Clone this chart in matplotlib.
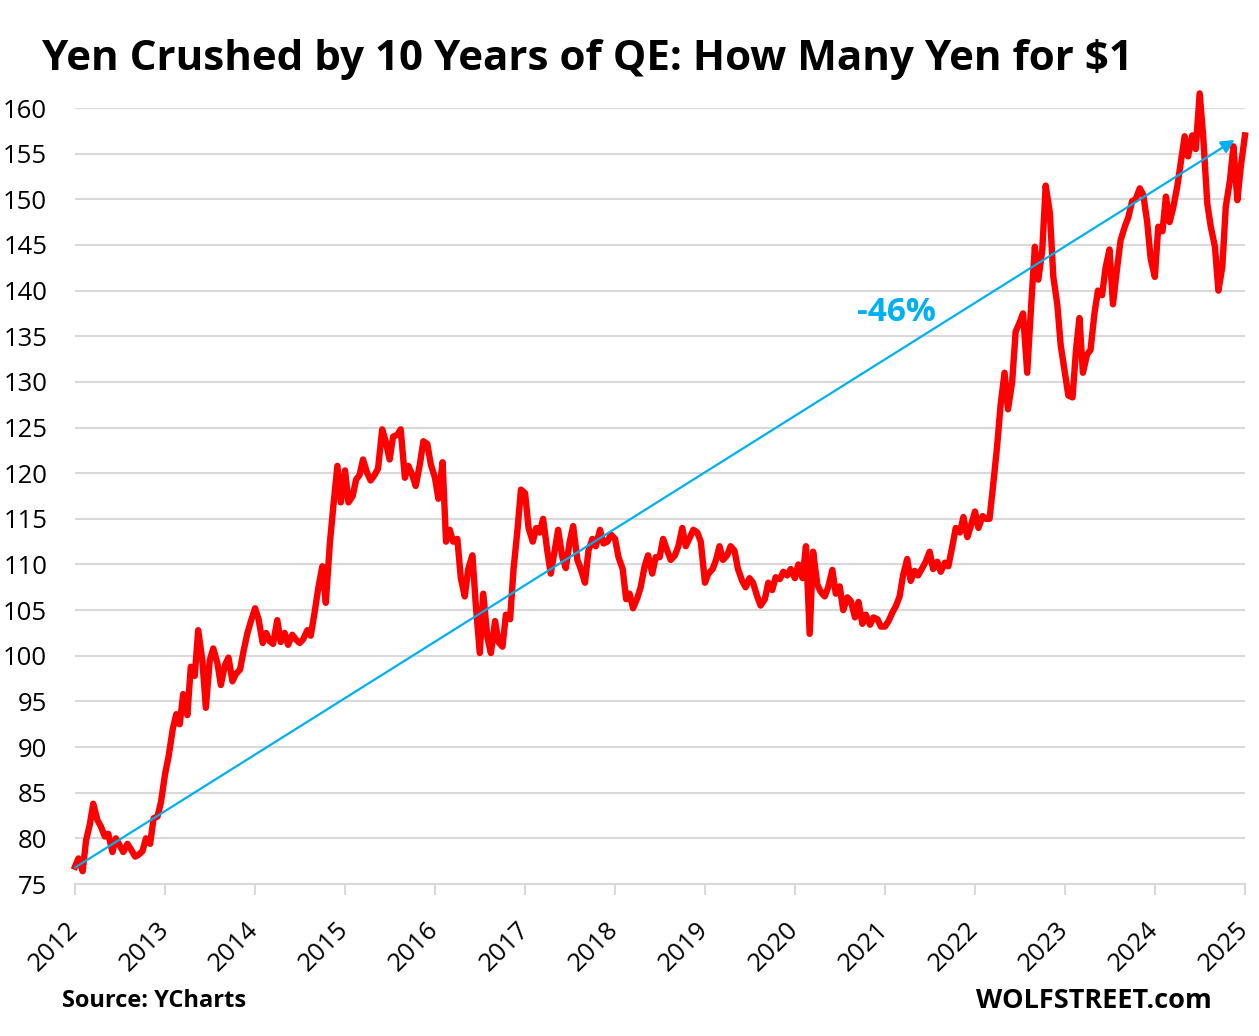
import numpy as np
import pandas as pd
import matplotlib
matplotlib.use('Agg')
import matplotlib.pyplot as plt

# USD/JPY at the 1st and 15th of each month
yen_2012 = [76.9, 77.8, 76.4, 79.8, 81.5, 83.8, 82.0, 81.3, 80.2, 80.5, 78.5, 80.0,
            79.2, 78.5, 79.4, 78.8, 78.0, 78.2, 78.6, 80.0, 79.4, 82.2, 82.4, 84.0]
yen_2013 = [87.1, 89.0, 92.0, 93.6, 92.5, 95.8, 93.5, 98.8, 97.8, 102.8, 99.5, 94.3,
            99.5, 100.8, 99.2, 96.8, 99.0, 99.8, 97.2, 98.0, 98.5, 100.5, 102.5, 103.8]
yen_2014 = [105.2, 104.0, 101.4, 102.5, 101.6, 101.3, 103.9, 101.5, 102.5, 101.2, 102.3, 101.8,
            101.4, 101.8, 102.8, 102.2, 105.0, 107.5, 109.8, 105.8, 112.5, 116.5, 120.8, 116.8]
yen_2015 = [120.3, 116.8, 117.5, 119.3, 119.8, 121.5, 120.0, 119.2, 119.8, 120.5, 124.8, 123.5,
            121.5, 124.0, 124.2, 124.8, 119.5, 120.8, 119.8, 118.6, 121.0, 123.5, 123.2, 121.0]
yen_2016 = [119.5, 117.2, 121.2, 112.5, 113.8, 112.5, 112.8, 108.5, 106.5, 109.5, 111.0, 105.5,
            100.3, 106.8, 102.0, 100.3, 103.8, 101.5, 101.0, 104.5, 104.0, 109.5, 113.8, 118.2]
yen_2017 = [117.8, 114.0, 112.5, 114.0, 113.5, 115.0, 111.5, 109.0, 111.5, 113.8, 110.8, 109.6,
            112.5, 114.2, 110.5, 109.5, 108.0, 111.5, 112.8, 112.0, 113.8, 112.3, 112.5, 113.3]
yen_2018 = [112.8, 110.8, 109.5, 106.2, 106.8, 105.2, 106.3, 107.5, 109.8, 111.0, 109.0, 110.8,
            110.8, 112.8, 111.5, 110.5, 111.0, 112.0, 114.0, 112.0, 113.0, 113.8, 113.5, 112.5]
yen_2019 = [108.0, 109.0, 109.5, 110.5, 112.0, 110.5, 111.0, 112.0, 111.5, 109.5, 108.2, 107.5,
            108.5, 108.0, 106.5, 105.5, 106.2, 108.0, 107.2, 108.6, 108.4, 109.2, 108.8, 109.5]
yen_2020 = [108.5, 110.0, 108.5, 112.0, 102.4, 111.4, 107.8, 107.0, 106.5, 107.5, 109.4, 106.8,
            107.6, 105.0, 106.4, 106.0, 104.2, 105.9, 103.5, 104.5, 103.4, 104.2, 104.0, 103.2]
yen_2021 = [103.2, 103.8, 104.8, 105.5, 106.5, 108.8, 110.6, 108.2, 109.3, 108.8, 109.6, 110.3,
            111.4, 109.5, 110.3, 109.2, 110.2, 109.8, 112.0, 114.0, 113.5, 115.2, 113.0, 114.2]
yen_2022 = [115.8, 114.0, 115.3, 115.0, 115.0, 118.5, 123.0, 127.5, 131.0, 127.0, 130.0, 135.5,
            136.5, 137.5, 131.0, 137.5, 144.8, 141.2, 144.4, 151.5, 148.5, 141.5, 138.5, 134.0]
yen_2023 = [131.0, 128.5, 128.3, 133.5, 137.0, 131.0, 133.0, 133.5, 137.5, 140.0, 139.5, 142.5,
            144.5, 138.5, 142.5, 145.5, 147.0, 148.0, 149.8, 150.0, 151.2, 150.5, 147.5, 143.5]
yen_2024 = [141.5, 147.0, 146.5, 150.3, 147.5, 149.0, 151.4, 154.0, 156.9, 154.7, 157.0, 155.5,
            161.6, 157.0, 149.5, 147.0, 144.8, 140.0, 142.6, 149.2, 152.1, 155.8, 149.9, 153.6]
yen_2025 = [157.0]

years = list(range(2012, 2026))
trend_dates = ['2012-01-01', '2024-11-20']
trend_values = [76.8, 156.5]

usd_jpy = (yen_2012 + yen_2013 + yen_2014 + yen_2015 + yen_2016 + yen_2017 + yen_2018 +
           yen_2019 + yen_2020 + yen_2021 + yen_2022 + yen_2023 + yen_2024 + yen_2025)
dates = pd.date_range('2012-01-01', '2025-01-01', freq='SMS')

W, H = 1259, 1036
fig = plt.figure(figsize=(W / 100, H / 100), dpi=100)
ax = fig.add_axes([75 / W, 1 - 884 / H, 1170 / W, 776 / H])

font = 'Open Sans'
blue = '#00b0f0'
grid = '#d9d9d9'

ax.plot(dates, usd_jpy, color='#ff0000', lw=4.6, solid_joinstyle='round', clip_on=False, zorder=3)

ax.annotate('', xy=(pd.Timestamp(trend_dates[1]), trend_values[1]),
            xytext=(pd.Timestamp(trend_dates[0]), trend_values[0]),
            arrowprops=dict(arrowstyle='-|>', color=blue, lw=1.6, mutation_scale=20,
                            shrinkA=0, shrinkB=0), zorder=4)
ax.text(pd.Timestamp('2021-02-17'), 137.6, '-46%', color=blue, fontsize=24, fontweight='bold',
        family=font, ha='center', va='center')

ax.set_xlim(pd.Timestamp('2012-01-01'), pd.Timestamp('2025-01-01'))
ax.set_ylim(75, 160)
ax.set_yticks(np.arange(75, 161, 5))
ax.set_xticks([pd.Timestamp(f'{y}-01-01') for y in years])
ax.set_xticklabels([str(y) for y in years], rotation=45, ha='right', va='center',
                   rotation_mode='anchor')
ax.grid(axis='y', color=grid, lw=1.5)
ax.set_axisbelow(True)
for s in ['top', 'right', 'left']:
    ax.spines[s].set_visible(False)
ax.spines['bottom'].set_color(grid)
ax.spines['bottom'].set_linewidth(1.5)
ax.tick_params(axis='y', length=0, pad=20, labelsize=18.5)
ax.tick_params(axis='x', length=8, width=1.5, color=grid, pad=22, labelsize=18.5)
for lab in ax.get_xticklabels() + ax.get_yticklabels():
    lab.set_family(font)

fig.text(42 / W, 1 - 60 / H, 'Yen Crushed by 10 Years of QE: How Many Yen for $1',
         fontsize=30.3, fontweight='bold', family=font, ha='left', va='center')
fig.text(62 / W, 1 - 1001 / H, 'Source: YCharts', fontsize=17, fontweight='bold',
         family=font, ha='left', va='center')
fig.text(1212 / W, 1 - 1001 / H, 'WOLFSTREET.com', fontsize=19.5, fontweight='bold',
         family=font, ha='right', va='center')

fig.savefig('out.png', dpi=100)
